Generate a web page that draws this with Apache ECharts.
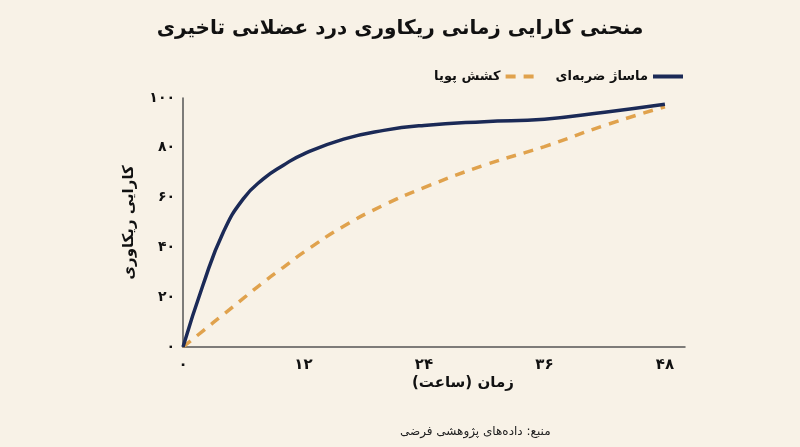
<!DOCTYPE html>
<html>
<head>
<meta charset="utf-8">
<script src="https://cdn.jsdelivr.net/npm/echarts@6/dist/echarts.min.js"></script>
<style>
  html, body { margin: 0; padding: 0; background: #f8f2e7; }
  #main { width: 800px; height: 447px; }
</style>
</head>
<body>
<div id="main"></div>
<script>
let hours = [0, 2, 4, 6, 8, 10, 12, 16, 20, 24, 30, 36, 42, 48];
let massageValues = [0, 25, 46, 59.5, 67.5, 73, 77.5, 83.5, 87, 89, 90.5, 91.5, 94.3, 97.5];
let stretchValues = [0, 6.5, 13, 19.5, 26, 32, 38, 48.5, 57, 64, 73, 80.5, 89, 96.5];
let xTicks = [0, 12, 24, 36, 48];
let massageName = "ماساژ ضربه‌ای";
let stretchName = "کشش پویا";

function toFa(n) {
  return String(n).replace(/\d/g, (d) => "۰۱۲۳۴۵۶۷۸۹"[d]);
}

let myChart = echarts.init(document.getElementById("main"));
let font = "DejaVu Sans";

let option = {
  backgroundColor: "#f8f2e7",
  textStyle: { fontFamily: font },
  title: {
    text: "منحنی کارایی زمانی ریکاوری درد عضلانی تاخیری",
    left: "center",
    top: 14,
    textStyle: { fontFamily: font, fontSize: 20, fontWeight: "bold", color: "#111" },
  },
  legend: {
    data: [stretchName, massageName],
    right: 110,
    top: 65,
    align: "right",
    itemWidth: 30,
    itemHeight: 8,
    itemGap: 18,
    itemStyle: { opacity: 0 },
    lineStyle: { width: 4 },
    textStyle: { fontFamily: font, fontSize: 13, fontWeight: "bold", color: "#111" },
  },
  grid: { left: 183, right: 115, top: 98, bottom: 100 },
  xAxis: {
    type: "value",
    min: 0,
    max: 50,
    interval: 12,
    axisLine: { lineStyle: { color: "#555", width: 1.5 } },
    axisTick: { show: false },
    splitLine: { show: false },
    axisLabel: {
      margin: 11,
      fontSize: 15,
      fontWeight: "bold",
      color: "#111",
      showMaxLabel: false,
      formatter: (v) => (xTicks.includes(v) ? toFa(v) : ""),
    },
  },
  yAxis: {
    type: "value",
    min: 0,
    max: 100,
    interval: 20,
    name: "کارایی ریکاوری",
    nameLocation: "middle",
    nameRotate: 90,
    nameGap: 46,
    nameTextStyle: { fontFamily: font, fontSize: 15, fontWeight: "bold", color: "#111" },
    axisLine: { show: true, lineStyle: { color: "#555", width: 1.5 } },
    axisTick: { show: false },
    splitLine: { show: false },
    axisLabel: {
      margin: 8,
      fontSize: 14,
      fontWeight: "bold",
      color: "#111",
      formatter: (v) => toFa(v),
    },
  },
  graphic: [
    {
      type: "text",
      left: 412,
      top: 376,
      style: {
        text: "زمان (ساعت)",
        fontFamily: font,
        fontSize: 15,
        fontWeight: "bold",
        fill: "#111",
        textAlign: "center",
      },
    },
    {
      type: "text",
      left: 400,
      top: 426,
      style: {
        text: "منبع: داده‌های پژوهشی فرضی",
        fontFamily: font,
        fontSize: 12,
        fill: "#222",
        textAlign: "center",
      },
    },
  ],
  series: [
    {
      name: massageName,
      type: "line",
      smooth: 0.5,
      symbol: "none",
      data: hours.map((h, i) => [h, massageValues[i]]),
      itemStyle: { color: "#1b2a57" },
      lineStyle: { color: "#1b2a57", width: 3.5 },
      z: 3,
    },
    {
      name: stretchName,
      type: "line",
      smooth: 0.5,
      symbol: "none",
      data: hours.map((h, i) => [h, stretchValues[i]]),
      itemStyle: { color: "#e0a24d" },
      lineStyle: { color: "#e0a24d", width: 3.5, type: [10, 8] },
      z: 2,
    },
  ],
};

myChart.setOption(option);
</script>
</body>
</html>
